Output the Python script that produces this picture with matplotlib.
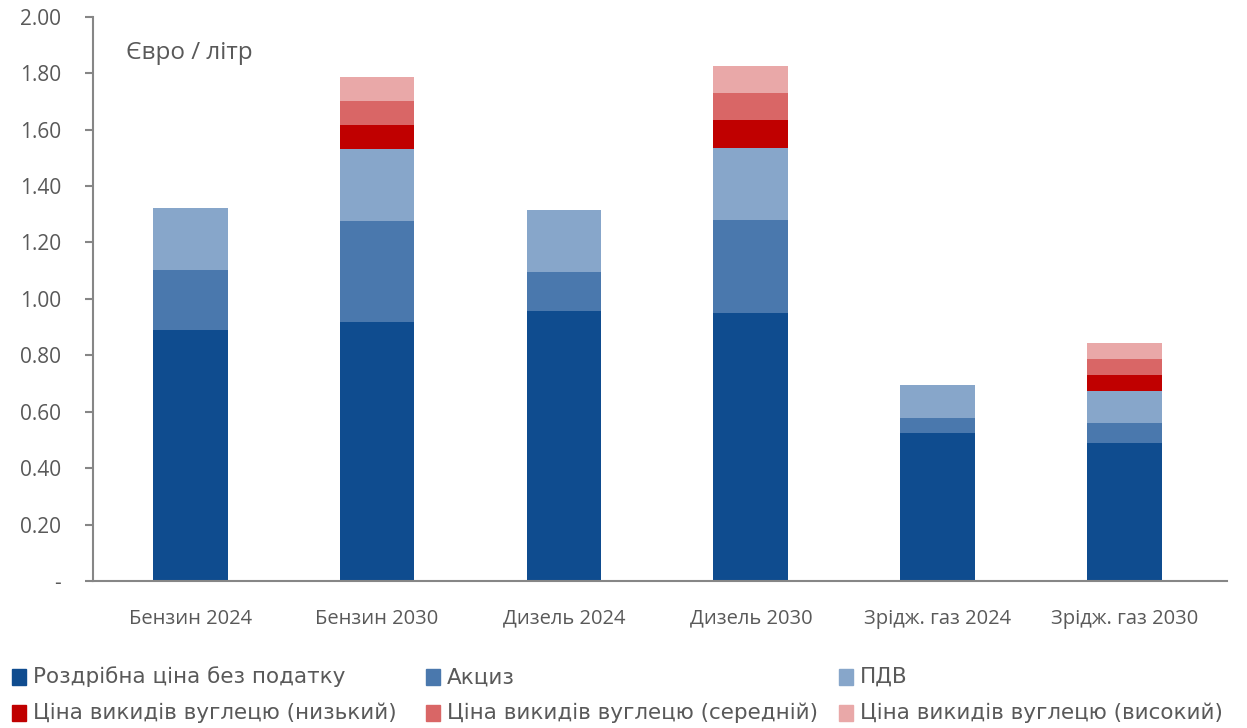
import numpy as np
import matplotlib.pyplot as plt
from matplotlib.patches import Rectangle

plt.rcParams['font.family'] = ['Open Sans', 'DejaVu Sans']

categories = ['Бензин 2024', 'Бензин 2030', 'Дизель 2024', 'Дизель 2030',
              'Зрідж. газ 2024', 'Зрідж. газ 2030']

retail = [0.89, 0.918, 0.957, 0.95, 0.525, 0.489]
excise = [0.213, 0.359, 0.139, 0.33, 0.053, 0.071]
vat = [0.22, 0.255, 0.22, 0.255, 0.117, 0.114]
carbon_low = [0, 0.085, 0, 0.10, 0, 0.056]
carbon_mid = [0, 0.085, 0, 0.095, 0, 0.057]
carbon_high = [0, 0.085, 0, 0.096, 0, 0.057]

series = [
    ('Роздрібна ціна без податку', retail, '#0f4c8f'),
    ('Акциз', excise, '#4a78ad'),
    ('ПДВ', vat, '#87a6ca'),
    ('Ціна викидів вуглецю (низький)', carbon_low, '#c00000'),
    ('Ціна викидів вуглецю (середній)', carbon_mid, '#d96666'),
    ('Ціна викидів вуглецю (високий)', carbon_high, '#e9a8a8'),
]

grey = '#595959'

fig = plt.figure(figsize=(12.47, 7.28), dpi=100)
ax = fig.add_axes([0.0746, 0.202, 0.9097, 0.775])

x = np.arange(len(categories))
bottom = np.zeros(len(categories))
for name, vals, col in series:
    vals = np.array(vals)
    ax.bar(x, vals, width=0.4, bottom=bottom, color=col, label=name)
    bottom += vals

ax.set_xlim(-0.52, len(categories) - 0.45)
ax.set_ylim(0, 2.0)
yt = np.arange(0, 2.01, 0.2)
ax.set_yticks(yt)
ax.set_yticklabels(['-'] + ['%.2f' % v for v in yt[1:]])
ax.set_xticks(x)
ax.set_xticklabels(categories)

for s in ['top', 'right']:
    ax.spines[s].set_visible(False)
for s in ['left', 'bottom']:
    ax.spines[s].set_color('#868686')
    ax.spines[s].set_linewidth(1.5)
ax.tick_params(axis='y', length=6, width=1.5, color='#868686',
               labelsize=15, labelcolor=grey, pad=17)
ax.tick_params(axis='x', length=0, labelsize=14.5, labelcolor=grey, pad=20)

ax.text(0.029, 0.935, 'Євро / літр', transform=ax.transAxes,
        fontsize=17.5, color=grey, va='center')

# легенда: три колонки, два рядки
col_x = [0.0096, 0.342, 0.673]
row_y = [0.070, 0.0206]
for i, (name, vals, col) in enumerate(series):
    cx = col_x[i % 3]
    cy = row_y[i // 3]
    fig.add_artist(Rectangle((cx, cy - 0.0105), 0.0112, 0.021,
                             transform=fig.transFigure, color=col))
    fig.text(cx + 0.0165, cy, name, fontsize=15.5, color=grey,
             va='center', family=['DejaVu Sans'])

fig.savefig('out.png', dpi=100)
